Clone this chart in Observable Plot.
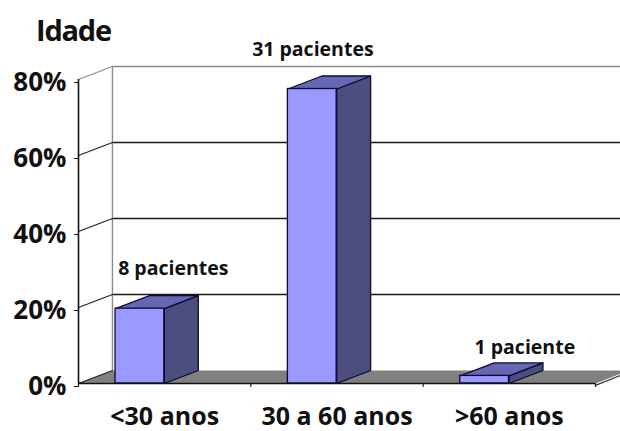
<!DOCTYPE html>
<html><head><meta charset="utf-8">
<script src="https://cdn.jsdelivr.net/npm/d3@7"></script>
<script src="https://cdn.jsdelivr.net/npm/@observablehq/plot@0.6"></script>
<style>
html,body{margin:0;padding:0;background:#fff;overflow:hidden}
#t{position:absolute;left:36px;top:11px;font:700 29px/38px "Open Sans",sans-serif;color:#111;letter-spacing:-1.2px}
svg{display:block}
</style></head><body>
<div id="t">Idade</div>
<div id="c"></div>
<script>
const categories = ["<30 anos", "30 a 60 anos", ">60 anos"];
const values = [19.7, 77.5, 2];
const labels = ["8 pacientes", "31 pacientes", "1 paciente"];
const labelX = [0.55, 1.36, 2.59];
const labelY = [30.3, 87.9, 9.5];
const yTicks = [0, 20, 40, 60, 80];
const groupTicks = [0, 1, 2, 3];
const barStart = 0.215, barWidth = 0.283, depthX = 0.197, depthY = 3.42;
const ink = "#0a0a33", front = "#9999ff", side = "#4d4d80", top_ = "#6666b3";

const barData = values.map((v, i) => ({i, v, x1: i + barStart, x2: i + barStart + barWidth}));
const poly = (name, f) => barData.flatMap(b => f(b).map(([x, y]) => ({x, y, z: name + b.i})));
const sides = poly("s", b => [[b.x2,0],[b.x2+depthX,depthY],[b.x2+depthX,b.v+depthY],[b.x2,b.v],[b.x2,0]]);
const tops = poly("t", b => [[b.x1,b.v],[b.x1+depthX,b.v+depthY],[b.x2+depthX,b.v+depthY],[b.x2,b.v],[b.x1,b.v]]);
const floor = [[0,0],[depthX,depthY],[3+depthX,depthY],[3,0],[0,0]].map(([x,y]) => ({x,y}));
const wallSeg = yTicks.flatMap(v => [{x:0,y:v,z:v},{x:depthX,y:v+depthY,z:v}]);
const floorEnd = [{x:3,y:-0.5},{x:3.15,y:2.2}];

const plot = Plot.plot({
  width: 620, height: 431,
  marginLeft: 78, marginRight: 25, marginTop: 79, marginBottom: 48,
  x: {type: "linear", domain: [0, 3], axis: null},
  y: {type: "linear", domain: [0, 80], axis: null},
  style: {fontFamily: "'Open Sans',sans-serif", color: "#111", background: "#fff"},
  marks: [
    Plot.line(floor, {x: "x", y: "y", fill: "#808080", stroke: "none"}),
    Plot.ruleY(yTicks.filter(v => v > 0 && v < 80), {y: d => d + depthY, x1: depthX, x2: 3.3, stroke: "#1a1a1a", strokeWidth: 1.4}),
    Plot.ruleY([80], {y: d => d + depthY, x1: depthX, x2: 3.3, stroke: "#8c8c8c", strokeWidth: 1.4}),
    Plot.ruleX([depthX], {y1: depthY, y2: 80 + depthY, stroke: "#8c8c8c", strokeWidth: 1.4}),
    Plot.line(wallSeg, {x: "x", y: "y", z: "z", stroke: d => d.z === 80 ? "#8c8c8c" : "#222", strokeWidth: 1.2}),
    Plot.line(floorEnd, {x: "x", y: "y", stroke: "#333", strokeWidth: 1.2}),
    Plot.line(sides, {x: "x", y: "y", z: "z", fill: side, stroke: ink, strokeWidth: 1.3}),
    Plot.line(tops, {x: "x", y: "y", z: "z", fill: top_, stroke: ink, strokeWidth: 1.3}),
    Plot.rect(barData, {x1: "x1", x2: "x2", y1: 0, y2: "v", fill: front, stroke: ink, strokeWidth: 1.3}),
    Plot.ruleY([0], {x1: 0, x2: 3, stroke: "#111", strokeWidth: 1.6}),
    Plot.ruleX([0], {y1: 0, y2: 80, stroke: "#111", strokeWidth: 1.6}),
    Plot.ruleX(groupTicks, {x: d => d, y1: 0, y2: -1, stroke: "#111", strokeWidth: 1.2}),
    Plot.axisY({ticks: yTicks, tickFormat: d => d + "%", tickSize: 4, tickPadding: 8, fontSize: 26, fontWeight: 700, stroke: "#111", label: null, dy: 3}),
    Plot.text(categories, {x: (d, i) => i + 0.5, y: 0, text: d => d, dy: 33, fontSize: 25, fontWeight: 700, fill: "#111"}),
    Plot.text(labels, {x: (d, i) => labelX[i], y: (d, i) => labelY[i], text: d => d, fontSize: 19.5, fontWeight: 700, fill: "#111"})
  ]
});
document.getElementById("c").append(plot);
</script>
</body></html>
